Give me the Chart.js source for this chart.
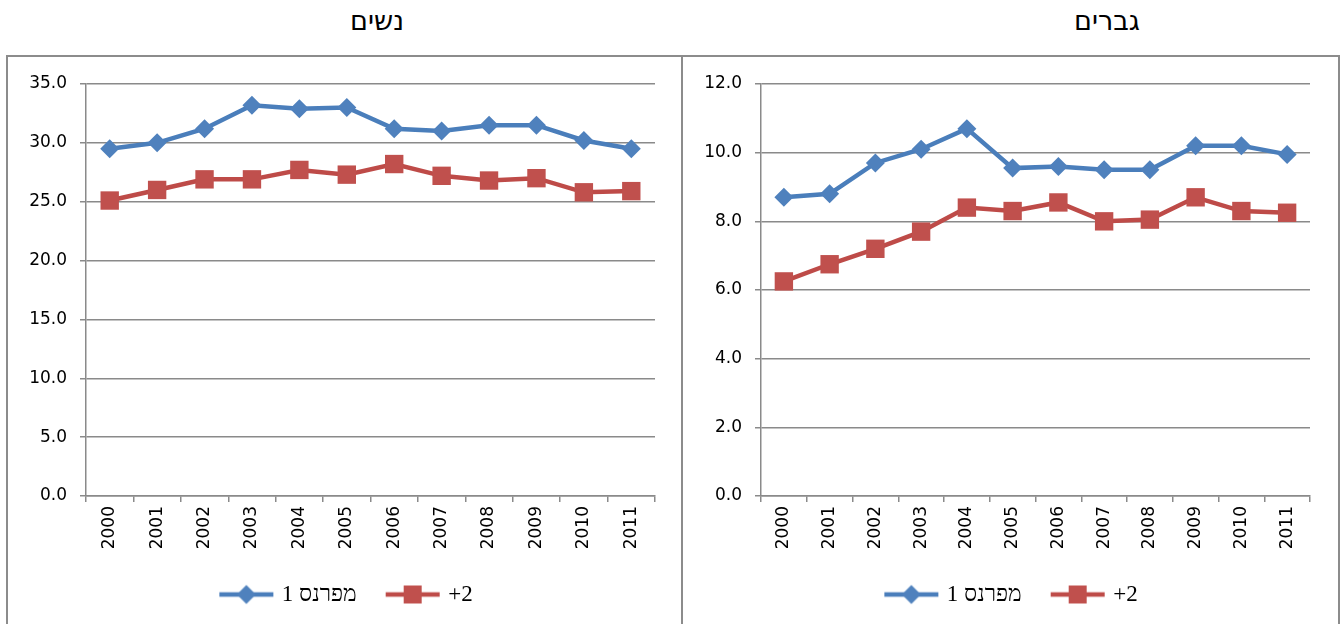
<!DOCTYPE html>
<html>
<head>
<meta charset="utf-8">
<script src="https://cdn.jsdelivr.net/npm/chart.js@4.4.0/dist/chart.umd.min.js"></script>
<style>
    body { margin: 0; width: 1343px; height: 624px; overflow: hidden; background: #fff; position: relative; }
    .title { position: absolute; top: 5px; font-family: "DejaVu Sans", sans-serif; font-size: 27px; color: #000; text-align: center; width: 200px; }
    .box { position: absolute; top: 55px; height: 600px; border: 2px solid #8c8c8c; box-sizing: border-box; }
    canvas { position: absolute; }
</style>
</head>
<body>
<div class="title" style="left: 277px;">נשים</div>
<div class="title" style="left: 1007px;">גברים</div>
<div class="box" style="left: 6px; width: 677px;"></div>
<div class="box" style="left: 681px; width: 659px;"></div>
<canvas id="womenChart" width="673" height="567" style="left: 8px; top: 57px;"></canvas>
<canvas id="menChart" width="655" height="567" style="left: 683px; top: 57px;"></canvas>

<script>
const years = ['2000', '2001', '2002', '2003', '2004', '2005', '2006', '2007', '2008', '2009', '2010', '2011'];
const seriesNames = ['מפרנס 1', '+2'];

// נשים
const womenOne = [29.5, 30.0, 31.2, 33.2, 32.9, 33.0, 31.2, 31.0, 31.5, 31.5, 30.2, 29.5];
const womenTwo = [25.1, 26.0, 26.9, 26.9, 27.7, 27.3, 28.2, 27.2, 26.8, 27.0, 25.8, 25.9];

// גברים
const menOne = [8.7, 8.8, 9.7, 10.1, 10.7, 9.55, 9.6, 9.5, 9.5, 10.2, 10.2, 9.95];
const menTwo = [6.25, 6.75, 7.2, 7.7, 8.4, 8.3, 8.55, 8.0, 8.05, 8.7, 8.3, 8.25];

const womenTicks = { max: 35, step: 5 };
const menTicks = { max: 12, step: 2 };

const blueLine = '#4a7ebb', blueMark = '#4f81bd';
const redLine = '#be4b48', redMark = '#c0504d';
const gridColor = '#8a8a8a';

// legend sample: line with the marker in the middle
function legendIcon(lineColor, markColor, diamond) {
    const c = document.createElement('canvas');
    c.width = 56;
    c.height = 22;
    const g = c.getContext('2d');
    g.strokeStyle = lineColor;
    g.lineWidth = 4.5;
    g.beginPath();
    g.moveTo(1, 11);
    g.lineTo(55, 11);
    g.stroke();
    g.fillStyle = markColor;
    if (diamond) {
        g.beginPath();
        g.moveTo(28, 1.5);
        g.lineTo(37.5, 11);
        g.lineTo(28, 20.5);
        g.lineTo(18.5, 11);
        g.closePath();
        g.fill();
    } else {
        g.fillRect(19, 2, 18, 18);
    }
    return c;
}

const icons = [legendIcon(blueLine, blueMark, true), legendIcon(redLine, redMark, false)];

// legend row width counts a trailing padding, so nudge it back to the middle
const centerLegend = {
    id: 'centerLegend',
    afterLayout(chart) {
        const shift = chart.options.plugins.legend.labels.padding / 2;
        chart.legend.left += shift;
        chart.legend.right += shift;
    }
};

function makeChart(id, oneValues, twoValues, ticks, rightPad) {
    const tickFont = { family: 'DejaVu Sans', size: 17 };
    new Chart(document.getElementById(id), {
        type: 'line',
        data: {
            labels: years,
            datasets: [{
                label: seriesNames[0],
                data: oneValues,
                borderColor: blueLine,
                borderWidth: 4.5,
                pointStyle: 'rectRot',
                pointRadius: 9.5,
                pointBackgroundColor: blueMark,
                pointBorderColor: blueMark,
                pointBorderWidth: 0
            }, {
                label: seriesNames[1],
                data: twoValues,
                borderColor: redLine,
                borderWidth: 4.5,
                pointStyle: 'rect',
                pointRadius: 13,
                pointBackgroundColor: redMark,
                pointBorderColor: redMark,
                pointBorderWidth: 0
            }]
        },
        options: {
            responsive: false,
            animation: false,
            devicePixelRatio: 1,
            layout: { padding: { top: 27, right: rightPad, bottom: 8, left: 0 } },
            plugins: {
                tooltip: { enabled: false },
                legend: {
                    position: 'bottom',
                    labels: {
                        usePointStyle: true,
                        pointStyleWidth: 48,
                        padding: 32,
                        color: '#000',
                        font: { family: 'Liberation Serif', size: 23 },
                        generateLabels: (chart) => chart.data.datasets.map((ds, i) => ({
                            text: ds.label,
                            pointStyle: icons[i],
                            fillStyle: ds.borderColor,
                            strokeStyle: ds.borderColor,
                            lineWidth: 0,
                            fontColor: '#000',
                            datasetIndex: i
                        }))
                    }
                }
            },
            scales: {
                x: {
                    offset: true,
                    grid: { offset: true, drawOnChartArea: false, color: gridColor, lineWidth: 1.5, tickLength: 6 },
                    border: { color: gridColor, width: 1.5 },
                    ticks: { color: '#000', font: tickFont, minRotation: 90, maxRotation: 90, padding: 4 },
                    afterFit: (scale) => { scale.height = 55; }
                },
                y: {
                    min: 0,
                    max: ticks.max,
                    grid: { color: gridColor, lineWidth: 1.5, tickLength: 6 },
                    border: { color: gridColor, width: 1.5 },
                    ticks: {
                        stepSize: ticks.step,
                        color: '#000',
                        font: tickFont,
                        padding: 13,
                        callback: (v) => v.toFixed(1)
                    },
                    afterFit: (scale) => { scale.width = 78; }
                }
            }
        },
        plugins: [centerLegend]
    });
}

makeChart('womenChart', womenOne, womenTwo, womenTicks, 26);
makeChart('menChart', menOne, menTwo, menTicks, 28);
</script>
</body>
</html>
